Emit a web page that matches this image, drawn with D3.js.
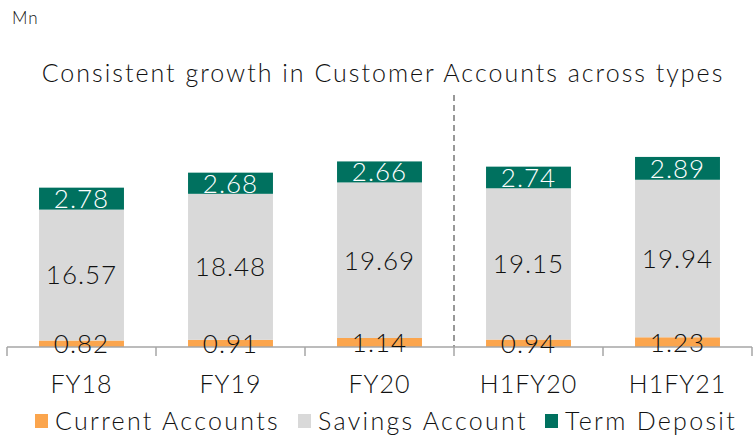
<!DOCTYPE html>
<html>
<head>
<meta charset="utf-8">
<script src="https://cdn.jsdelivr.net/npm/d3@7"></script>
<style>
  body { margin: 0; background: #fff; }
  svg { font-family: "Lato", "DejaVu Sans", sans-serif; font-weight: 300; }
</style>
</head>
<body>
<script>
// data
var categories = ["FY18", "FY19", "FY20", "H1FY20", "H1FY21"];
var seriesNames = ["Current Accounts", "Savings Account", "Term Deposit"];
var currentAccounts = [0.82, 0.91, 1.14, 0.94, 1.23];
var savingsAccount = [16.57, 18.48, 19.69, 19.15, 19.94];
var termDeposit = [2.78, 2.68, 2.66, 2.74, 2.89];
var colors = ["#FBA54D", "#D9D9D9", "#00715F"];
var labelColors = ["#111", "#111", "#fff"];

window.onload = drawChart();

function drawChart(){
    var width = 754,
        height = 439;

    var svg = d3.select("body")
        .append("svg")
        .attr("width", width)
        .attr("height", height);

    var baseY = 347;

    var x = d3.scaleBand()
        .domain(categories)
        .range([7, 752])
        .padding(0);

    var y = d3.scaleLinear()
        .domain([0, 25])
        .range([baseY, baseY - 7.9 * 25]);

    var barW = x.bandwidth() * 0.57;

    //build table for stacking
    var table = categories.map(function(c, i){
        return {cat: c, "Current Accounts": currentAccounts[i],
            "Savings Account": savingsAccount[i], "Term Deposit": termDeposit[i]};
    });
    var stacked = d3.stack().keys(seriesNames)(table);

    //unit label and title
    svg.append("text")
        .attr("x", 12).attr("y", 24)
        .attr("font-size", 17)
        .attr("letter-spacing", 1)
        .attr("fill", "#111")
        .text("Mn");

    svg.append("text")
        .attr("x", 383).attr("y", 82)
        .attr("text-anchor", "middle")
        .attr("font-size", 25)
        .attr("letter-spacing", 2)
        .attr("fill", "#111")
        .text("Consistent growth in Customer Accounts across types");

    //dashed separator between annual and half-year
    svg.append("line")
        .attr("x1", x("H1FY20")).attr("x2", x("H1FY20"))
        .attr("y1", 95).attr("y2", baseY)
        .attr("stroke", "#777")
        .attr("stroke-width", 1.5)
        .attr("stroke-dasharray", "6,4");

    //bars
    var groups = svg.selectAll(".series")
        .data(stacked)
        .enter()
        .append("g")
        .attr("class", "series")
        .attr("fill", function(d, i){ return colors[i]; });

    groups.selectAll("rect")
        .data(function(d){ return d; })
        .enter()
        .append("rect")
        .attr("x", function(d){ return x(d.data.cat) + (x.bandwidth() - barW) / 2; })
        .attr("y", function(d){ return y(d[1]); })
        .attr("width", barW)
        .attr("height", function(d){ return y(d[0]) - y(d[1]); });

    //axis
    var axis = svg.append("g")
        .attr("transform", "translate(0," + baseY + ")");
    axis.append("line")
        .attr("x1", 7).attr("x2", 752)
        .attr("stroke", "#A6A6A6").attr("stroke-width", 1.5);
    axis.selectAll(".tick")
        .data(categories.concat(["end"]))
        .enter()
        .append("line")
        .attr("x1", function(d, i){ return i < categories.length ? x(d) : 752; })
        .attr("x2", function(d, i){ return i < categories.length ? x(d) : 752; })
        .attr("y1", 0).attr("y2", 9)
        .attr("stroke", "#A6A6A6").attr("stroke-width", 1.5);
    axis.selectAll(".cat")
        .data(categories)
        .enter()
        .append("text")
        .attr("x", function(d){ return x(d) + x.bandwidth() / 2; })
        .attr("y", 46)
        .attr("text-anchor", "middle")
        .attr("font-size", 25)
        .attr("letter-spacing", 1)
        .attr("fill", "#111")
        .text(function(d){ return d; });

    //value labels
    stacked.forEach(function(s, si){
        svg.selectAll(".lbl" + si)
            .data(s)
            .enter()
            .append("text")
            .attr("x", function(d){ return x(d.data.cat) + x.bandwidth() / 2; })
            .attr("y", function(d){ return (y(d[0]) + y(d[1])) / 2; })
            .attr("dy", "0.36em")
            .attr("text-anchor", "middle")
            .attr("font-size", 26)
            .attr("letter-spacing", 1)
            .attr("fill", labelColors[si])
            .text(function(d){ return (d[1] - d[0]).toFixed(2); });
    });

    //legend
    var legX = [35, 298, 545];
    var leg = svg.selectAll(".legend")
        .data(seriesNames)
        .enter()
        .append("g")
        .attr("transform", function(d, i){ return "translate(" + legX[i] + ",414)"; });
    leg.append("rect")
        .attr("width", 13).attr("height", 14)
        .attr("fill", function(d, i){ return colors[i]; });
    leg.append("text")
        .attr("x", 20).attr("y", 7)
        .attr("dy", "0.36em")
        .attr("font-size", 25)
        .attr("letter-spacing", 2.3)
        .attr("fill", "#111")
        .text(function(d){ return d; });
};
</script>
</body>
</html>
